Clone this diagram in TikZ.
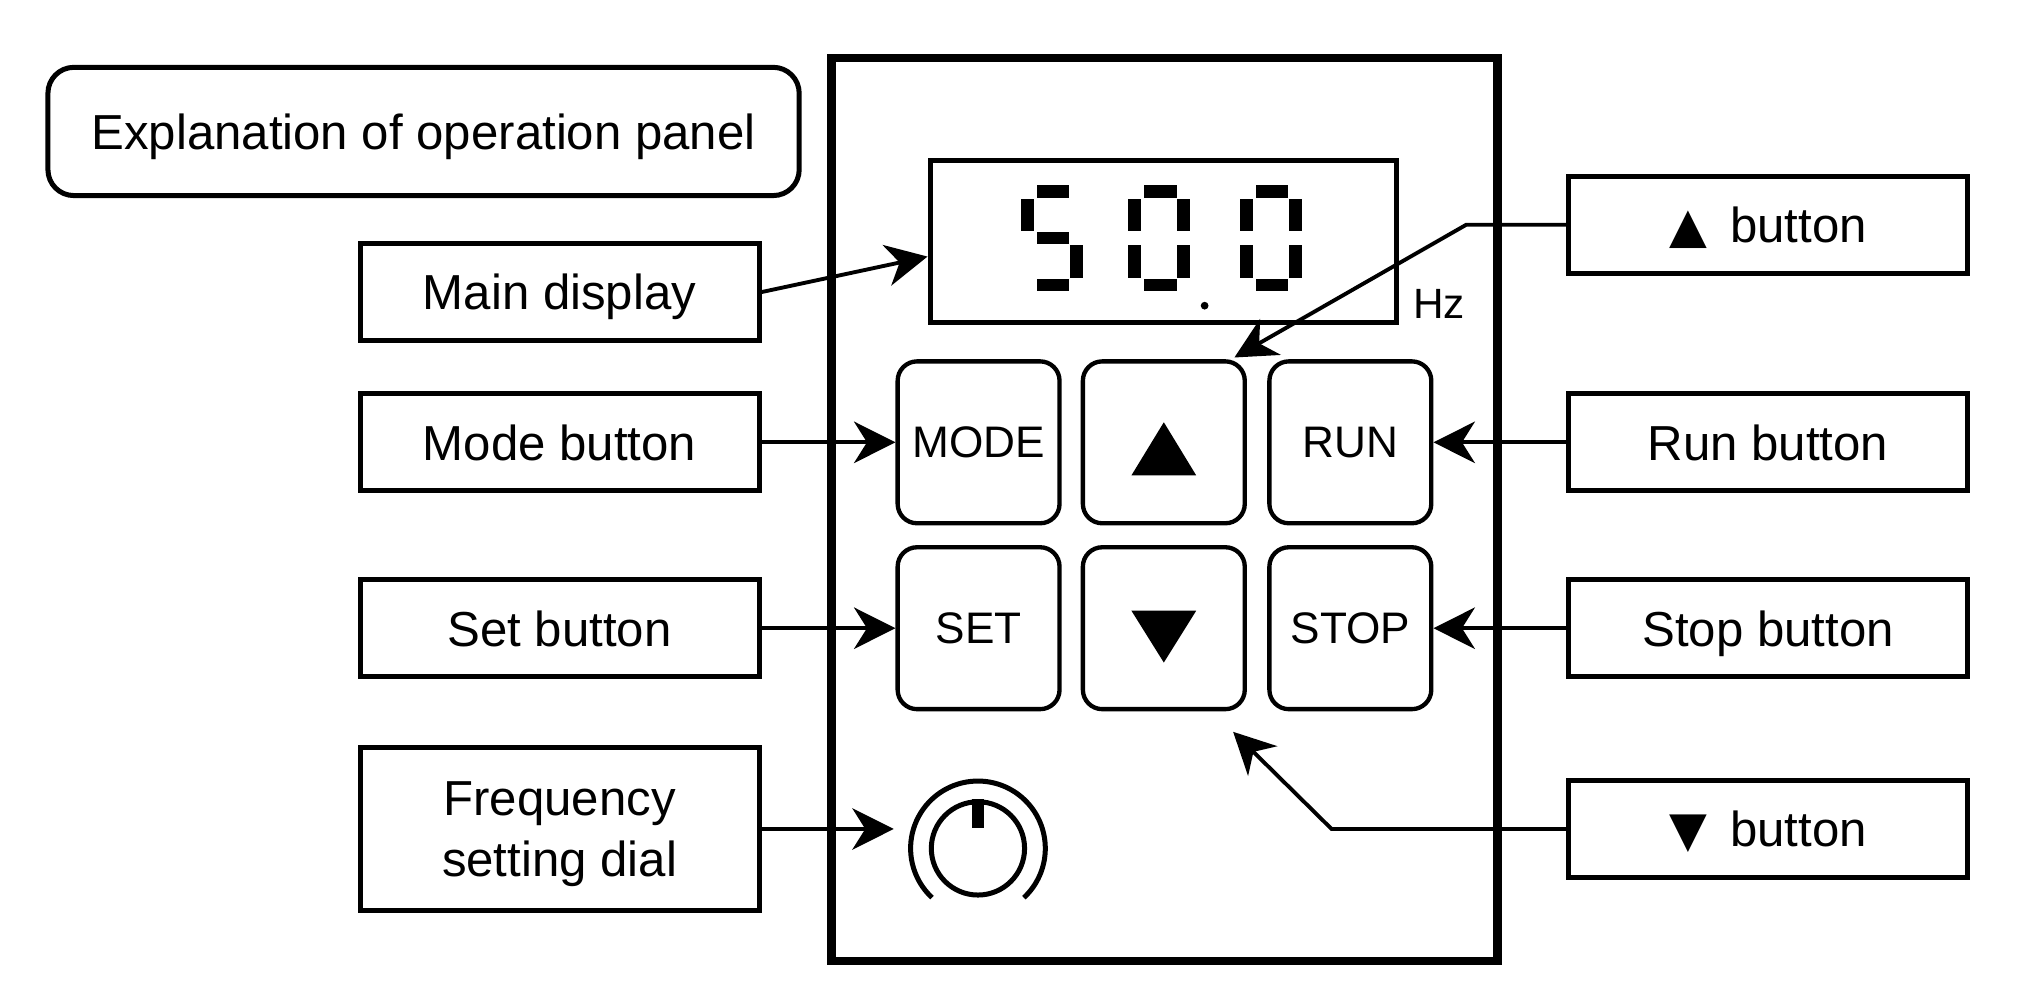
\documentclass[tikz,border=0pt]{standalone}
\usepackage{fontspec}
\setmainfont{Liberation Sans}
\newfontfamily\symfont{DejaVu Sans}
\usetikzlibrary{arrows.meta,positioning,calc}

\begin{document}
\begin{tikzpicture}[
  every node/.style={font=\fontsize{10.8}{13.4}\selectfont,align=center,inner sep=2pt,text depth=0pt},
  tag/.style={draw,line width=1.1pt,minimum width=3.08cm,minimum height=0.75cm},
  titlebox/.style={draw,line width=1.1pt,rounded corners=0.2cm,minimum width=5.80cm,minimum height=0.99cm},
  key/.style={draw,line width=0.95pt,rounded corners=0.15cm,minimum width=1.25cm,minimum height=1.25cm,font=\fontsize{9.7}{11}\selectfont},
  casing/.style={draw,line width=1.85pt,minimum width=5.14cm,minimum height=6.97cm},
  screen/.style={draw,line width=1.1pt,minimum width=3.60cm,minimum height=1.25cm},
  pointer/.style={-{Stealth[length=3.2mm,width=3.2mm,inset=1mm]},line width=0.85pt}
]
  \useasboundingbox (0,0) rectangle (15.68,7.71);
  \node[titlebox] (title) at (3.27,6.695) {Explanation of operation panel};
  \node[casing] (panel) at (8.99,3.775) {};
  \node[screen] (screen) at (8.98,5.845) {};
  \node[font=\fontsize{9.3}{11}\selectfont] (hz) at (11.11,5.36) {Hz};
  % seven segment digits 5 0 . 0
  \begin{scope}[shift={(7.88,5.46)}]
    \foreach \xa/\ya/\xb/\yb in {0.125/0.725/0.375/0.82, 0/0.465/0.10/0.715, 0.125/0.365/0.375/0.455, 0.38/0.105/0.48/0.355, 0.125/0/0.375/0.095}
      \fill (\xa,\ya) rectangle (\xb,\yb);
  \end{scope}
  \foreach \dx in {8.71,9.57}{
    \begin{scope}[shift={(\dx,5.46)}]
      \foreach \xa/\ya/\xb/\yb in {0.125/0.725/0.375/0.82, 0/0.465/0.10/0.715, 0.38/0.465/0.48/0.715, 0/0.105/0.10/0.355, 0.38/0.105/0.48/0.355, 0.125/0/0.375/0.095}
        \fill (\xa,\ya) rectangle (\xb,\yb);
    \end{scope}
  }
  \fill (9.30,5.35) circle (0.03);
  % keys
  \node[key] (kmode) at (7.555,4.295) {MODE};
  \node[key] (kup) at (8.985,4.295) {};
  \node[key] (krun) at (10.425,4.295) {RUN};
  \node[key] (kset) at (7.555,2.86) {SET};
  \node[key] (kdown) at (8.985,2.86) {};
  \node[key] (kstop) at (10.425,2.86) {STOP};
  \fill ($(kup)+(-0.25,-0.255)$) -- ($(kup)+(0.25,-0.255)$) -- ($(kup)+(0,0.155)$) -- cycle;
  \fill ($(kdown)+(-0.25,0.135)$) -- ($(kdown)+(0.25,0.135)$) -- ($(kdown)+(0,-0.265)$) -- cycle;
  % dial
  \coordinate (dial) at (7.55,1.16);
  \draw[line width=1.1pt] (dial) circle (0.36);
  \draw[line width=1.1pt] ($(dial)+(-47:0.52)$) arc (-47:227:0.52);
  \fill ($(dial)+(-0.045,0.155)$) rectangle ($(dial)+(0.045,0.385)$);
  % labels
  \node[tag] (tdisp) at (4.32,5.455) {Main display};
  \node[tag] (tmode) at (4.32,4.295) {Mode button};
  \node[tag] (tset) at (4.32,2.86) {Set button};
  \node[tag,minimum height=1.26cm] (tdial) at (4.32,1.31) {Frequency\\setting dial};
  \node[tag] (tup) at (13.65,5.975) {{\symfont ▲}\hspace{5pt}button};
  \node[tag] (trun) at (13.65,4.295) {Run button};
  \node[tag] (tstop) at (13.65,2.86) {Stop button};
  \node[tag] (tdown) at (13.65,1.31) {{\symfont ▼}\hspace{5pt}button};
  \coordinate (dialtip) at (6.90,1.31);
  \coordinate (upbend) at (11.32,5.975);
  \coordinate (uptip) at (9.53,4.95);
  \coordinate (downbend) at (10.28,1.31);
  \coordinate (downtip) at (9.52,2.06);
  \draw[pointer] (tdisp.east) -- ($(screen.north west)!0.59!(screen.south west)$);
  \draw[pointer] (tmode.east) -- (kmode.west);
  \draw[pointer] (tset.east) -- (kset.west);
  \draw[pointer] (tdial.east) -- (dialtip);
  \draw[pointer] (trun.west) -- (krun.east);
  \draw[pointer] (tstop.west) -- (kstop.east);
  \draw[pointer] (tup.west) -- (upbend) -- (uptip);
  \draw[pointer] (tdown.west) -- (downbend) -- (downtip);
\end{tikzpicture}
\end{document}
